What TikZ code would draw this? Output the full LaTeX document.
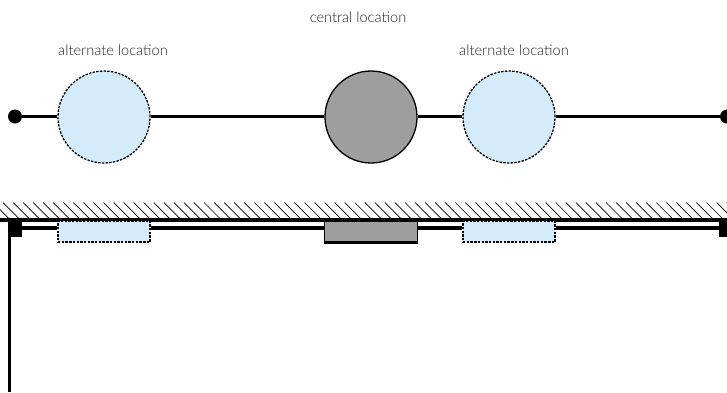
\documentclass[tikz,border=0pt]{standalone}
\usepackage{fontspec}
\setmainfont{Lato Light}
\definecolor{altblue}{HTML}{D4EBFC}
\definecolor{centergray}{HTML}{9E9E9E}
\definecolor{labelgray}{HTML}{222222}
\tikzset{
  altcircle/.style={circle,draw=black,fill=altblue,dash pattern=on 2.4pt off 1.3pt,line width=1.3pt,minimum size=92pt,inner sep=0pt},
  centercircle/.style={circle,draw=black,fill=centergray,line width=1.3pt,minimum size=92pt,inner sep=0pt},
  altrect/.style={rectangle,draw=black,fill=altblue,dash pattern=on 2.4pt off 1.3pt,line width=1.1pt,minimum width=92pt,minimum height=21pt,inner sep=0pt},
  centerrect/.style={rectangle,draw=none,fill=centergray,minimum width=92pt,minimum height=21pt,inner sep=0pt},
  enddot/.style={circle,fill=black,minimum size=14pt,inner sep=0pt},
  mount/.style={rectangle,fill=black,inner sep=0pt,anchor=north west},
  beam/.style={line width=3.1pt,black},
  lbl/.style={text=labelgray,font=\fontsize{14.6}{17}\selectfont,inner sep=0pt,anchor=base}
}
\begin{document}
\begin{tikzpicture}[x=1pt,y=-1pt]
\useasboundingbox (0,0) rectangle (727,392);
\clip (0,0) rectangle (727,392);
% hatching
\begin{scope}
\clip (0,202.5) rectangle (727,220);
\foreach \i in {-3,...,74}{
  \draw[line width=0.7pt,black] (\i*10.05+3,202.5) -- ++(18,18);
}
\end{scope}
% top view
\node[enddot] (dl) at (15,116.5) {};
\node[enddot] (dr) at (727,116.5) {};
\node[altcircle] (c1) at (104,117) {};
\node[centercircle] (c2) at (371,117) {};
\node[altcircle] (c3) at (509,117) {};
\draw[beam] (dl) -- (c1.west |- dl);
\draw[beam] (c1.east |- dl) -- (c2.west |- dl);
\draw[beam] (c2.east |- dl) -- (c3.west |- dl);
\draw[beam] (c3.east |- dl) -- (dr);
\node[lbl] (t1) at (113,55) {alternate location};
\node[lbl] (t2) at (358,22.5) {central location};
\node[lbl] (t3) at (514,55) {alternate location};
% side view
\coordinate (wl) at (0,220);
\coordinate (wr) at (727,220);
\draw[line width=3.2pt,black] (wl) -- (wr);
\node[mount,minimum width=14pt,minimum height=16pt] (ml) at (8,221) {};
\node[mount,minimum width=8pt,minimum height=16pt] (mr) at (719,221) {};
\node[altrect] (r1) at (104,231.5) {};
\node[centerrect] (r2) at (371,232) {};
\node[altrect] (r3) at (509,231.5) {};
\draw[beam] (ml.east |- 0,228) -- (r1.west |- 0,228);
\draw[beam] (r1.east |- 0,228) -- (r2.west |- 0,228);
\draw[beam] (r2.east |- 0,228) -- (r3.west |- 0,228);
\draw[beam] (r3.east |- 0,228) -- (mr.west |- 0,228);
\draw[line width=1.2pt,black] (r2.north west) -- (r2.south west);
\draw[line width=1.2pt,black] (r2.north east) -- (r2.south east);
\draw[line width=2.8pt,black] ([xshift=-.6pt]r2.south west) -- ([xshift=.6pt]r2.south east);
\coordinate (vb) at (9.4,392);
\draw[line width=3.1pt,black] (vb |- ml.south) -- (vb);
\end{tikzpicture}
\end{document}
